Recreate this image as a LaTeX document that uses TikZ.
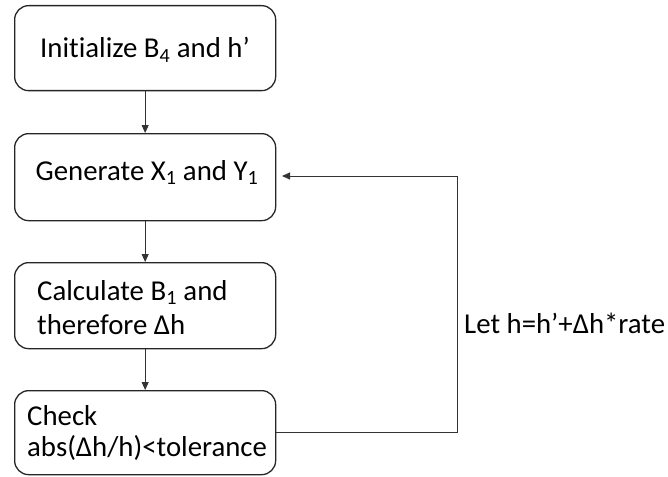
\documentclass[tikz,border=0pt]{standalone}
\usepackage{fontspec}
\setmainfont{Carlito}[Ligatures=NoCommon]
\usetikzlibrary{arrows.meta}
\begin{document}
\begin{tikzpicture}[x=1pt,y=-1pt,
  stepbox/.style={draw=black!85, line width=1.3pt, rounded corners=14pt,
    minimum width=261pt, anchor=north west, inner sep=0pt},
  flow/.style={draw=black!80, line width=0.9pt,
    -{Triangle[length=8pt,width=7pt]}},
  lbl/.style={font=\fontsize{28.8}{34}\selectfont, inner sep=0pt}]
\useasboundingbox (0,0) rectangle (668,476);

% process boxes
\node[stepbox, minimum height=85pt] (b1) at (14,5) {};
\node[stepbox, minimum height=87pt] (b2) at (14,133) {};
\node[stepbox, minimum height=86pt] (b3) at (14,262) {};
\node[stepbox, minimum height=84pt] (b4) at (14,390) {};

% box texts
\node[lbl, anchor=base] (t1) at (145,58) {Initialize B\textsubscript{4} and h’};
\node[lbl, anchor=base] (t2) at (147,180) {Generate X\textsubscript{1} and Y\textsubscript{1}};
\node[lbl, anchor=base west] (t3a) at (37,300) {Calculate B\textsubscript{1} and};
\node[lbl, anchor=base west] (t3b) at (37,334) {therefore Δh};
\node[lbl, anchor=base west] (t4a) at (27,425) {Check};
\node[lbl, anchor=base west] (t4b) at (27,456) {abs(Δh/h)<tolerance};

% main flow
\draw[flow] (b1.south) -- (b2.north);
\draw[flow] (b2.south) -- (b3.north);
\draw[flow] (b3.south) -- (b4.north);

% feedback loop
\coordinate (turn) at (457,176);
\coordinate (back) at (282,176);
\draw[flow] (b4.east) -| (turn) -- (back);
\node[lbl, anchor=base west] (loop) at (464,333) {Let h=h’+Δh*rate};
\end{tikzpicture}
\end{document}
